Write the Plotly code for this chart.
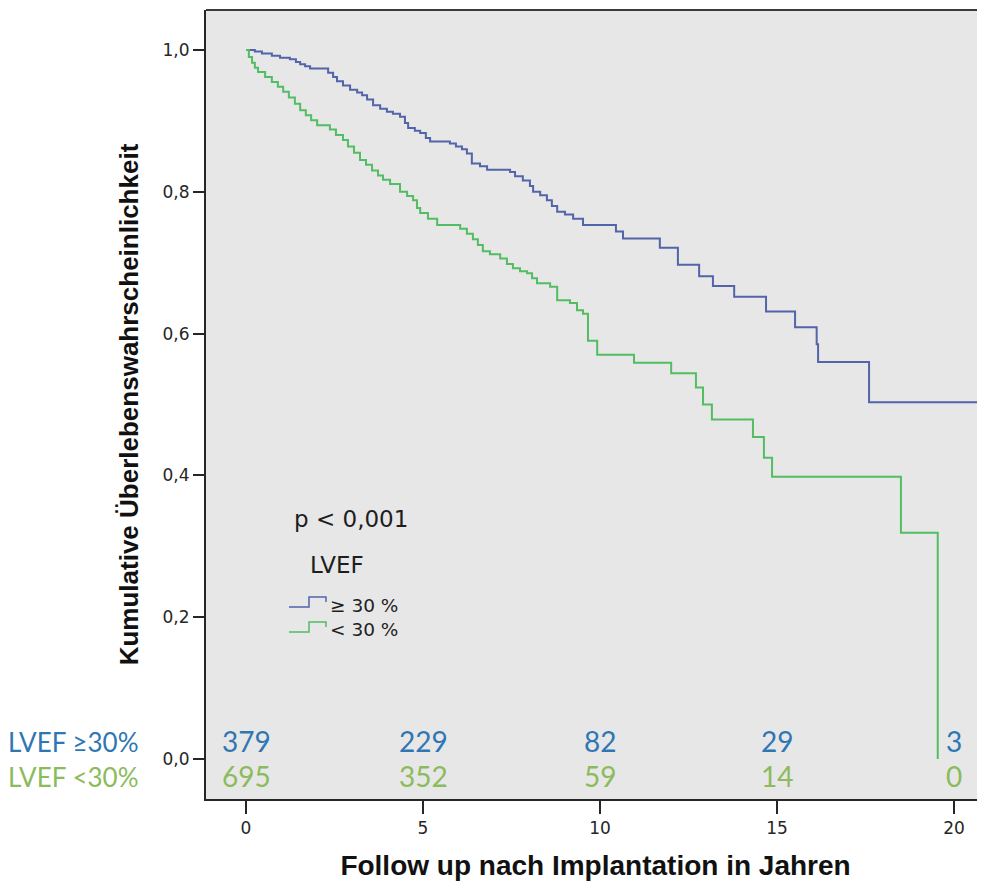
import plotly.graph_objects as go

# ---------------- data ----------------
# LVEF >= 30 %  (time in years, cumulative survival from that time on)
t_hi = [0.0, 0.25, 0.45, 0.73, 0.96, 1.24, 1.41, 1.53, 1.67, 1.81, 2.32, 2.46, 2.57,
        2.74, 2.94, 3.14, 3.28, 3.42, 3.59, 3.79, 3.98, 4.15, 4.35, 4.49, 4.58, 4.77,
        4.92, 5.08, 5.20, 5.76, 5.93, 6.10, 6.24, 6.38, 6.61, 6.81, 7.46, 7.60, 7.82,
        8.02, 8.11, 8.31, 8.50, 8.64, 8.79, 9.01, 9.24, 9.52, 10.45, 10.65, 11.69,
        12.20, 12.80, 13.19, 13.79, 14.69, 15.51, 16.12, 16.16, 17.60, 21.0]
s_hi = [1.000, 0.998, 0.995, 0.992, 0.989, 0.987, 0.983, 0.980, 0.977, 0.974, 0.968,
        0.962, 0.956, 0.950, 0.944, 0.940, 0.936, 0.930, 0.922, 0.917, 0.913, 0.910,
        0.906, 0.897, 0.890, 0.886, 0.883, 0.876, 0.871, 0.868, 0.864, 0.860, 0.854,
        0.840, 0.836, 0.831, 0.828, 0.822, 0.816, 0.808, 0.800, 0.795, 0.788, 0.780,
        0.772, 0.768, 0.762, 0.753, 0.744, 0.734, 0.721, 0.697, 0.681, 0.667, 0.652,
        0.631, 0.609, 0.585, 0.560, 0.503, 0.503]

# LVEF < 30 %
t_lo = [0.0, 0.08, 0.17, 0.25, 0.34, 0.54, 0.73, 0.90, 1.05, 1.21, 1.38, 1.53, 1.69,
        1.84, 2.01, 2.37, 2.54, 2.74, 2.88, 3.05, 3.22, 3.39, 3.56, 3.73, 3.87, 4.07,
        4.35, 4.55, 4.72, 4.83, 4.92, 5.14, 5.40, 6.05, 6.24, 6.41, 6.55, 6.69, 6.89,
        7.18, 7.37, 7.54, 7.74, 7.94, 8.08, 8.22, 8.59, 8.79, 9.15, 9.35, 9.52, 9.66,
        9.92, 10.96, 12.01, 12.71, 12.91, 13.16, 14.32, 14.63, 14.86, 18.50, 19.54]
s_lo = [1.000, 0.990, 0.982, 0.975, 0.969, 0.962, 0.955, 0.948, 0.941, 0.933, 0.924,
        0.915, 0.908, 0.901, 0.894, 0.888, 0.880, 0.873, 0.864, 0.855, 0.845, 0.838,
        0.830, 0.823, 0.817, 0.811, 0.800, 0.794, 0.788, 0.777, 0.770, 0.762, 0.753,
        0.748, 0.741, 0.733, 0.725, 0.716, 0.712, 0.706, 0.698, 0.692, 0.688, 0.685,
        0.678, 0.671, 0.666, 0.647, 0.643, 0.633, 0.628, 0.590, 0.570, 0.559, 0.544,
        0.524, 0.500, 0.479, 0.454, 0.425, 0.398, 0.319, 0.000]

# numbers at risk
risk_times = [0, 5, 10, 15, 20]
risk_hi = [379, 229, 82, 29, 3]
risk_lo = [695, 352, 59, 14, 0]

x_ticks = [0, 5, 10, 15, 20]
y_ticks = [0.0, 0.2, 0.4, 0.6, 0.8, 1.0]
y_ticktext = ["0,0", "0,2", "0,4", "0,6", "0,8", "1,0"]

# ---------------- styling ----------------
LINE_HI = "#5264aa"
LINE_LO = "#52bd62"
TXT_HI = "#2f76b4"
TXT_LO = "#8bbb5c"
AX = "#262626"

# the page body adds an 8 px offset; layout is given in screenshot pixels
OFF = 8
W, H = 985 - OFF, 889 - OFF
L, R, T, B = 206 - OFF, 0, 10 - OFF, H - (799 - OFF)


def px(xs, ys):
    """screenshot pixel -> paper coordinates"""
    xf, yf = xs - OFF, ys - OFF
    return (xf - L) / (W - L - R), (H - B - yf) / (H - T - B)


fig = go.Figure()
fig.add_trace(go.Scatter(x=t_hi, y=s_hi, mode="lines", line=dict(color=LINE_HI, width=2, shape="hv"),
                         name="≥ 30 %", showlegend=False))
fig.add_trace(go.Scatter(x=t_lo, y=s_lo, mode="lines", line=dict(color=LINE_LO, width=2, shape="hv"),
                         name="< 30 %", showlegend=False))

ann = []
for t, a, b in zip(risk_times, risk_hi, risk_lo):
    ann.append(dict(x=t, y=0.025, xref="x", yref="y", text=str(a), showarrow=False,
                    font=dict(family="Lato", size=28, color=TXT_HI), xanchor="center", yanchor="middle"))
    ann.append(dict(x=t, y=-0.024, xref="x", yref="y", text=str(b), showarrow=False,
                    font=dict(family="Lato", size=28, color=TXT_LO), xanchor="center", yanchor="middle"))

lx, ly = px(141, 742)
ann.append(dict(x=lx, y=ly, xref="paper", yref="paper", text="LVEF ≥30%", showarrow=False,
                font=dict(family="Lato", size=26, color=TXT_HI), xanchor="right", yanchor="middle"))
lx, ly = px(141, 777)
ann.append(dict(x=lx, y=ly, xref="paper", yref="paper", text="LVEF <30%", showarrow=False,
                font=dict(family="Lato", size=26, color=TXT_LO), xanchor="right", yanchor="middle"))

# legend block
LEG = "DejaVu Sans"
x0, y0 = px(292, 519)
ann.append(dict(x=x0, y=y0, xref="paper", yref="paper", text="p < 0,001", showarrow=False,
                font=dict(family=LEG, size=23, color="#1e1e1e"), xanchor="left", yanchor="middle"))
x0, y0 = px(308, 565)
ann.append(dict(x=x0, y=y0, xref="paper", yref="paper", text="LVEF", showarrow=False,
                font=dict(family=LEG, size=23, color="#1e1e1e"), xanchor="left", yanchor="middle"))
x0, y0 = px(328, 605)
ann.append(dict(x=x0, y=y0, xref="paper", yref="paper", text="≥ 30 %", showarrow=False,
                font=dict(family=LEG, size=18.5, color="#1e1e1e"), xanchor="left", yanchor="middle"))
x0, y0 = px(328, 629)
ann.append(dict(x=x0, y=y0, xref="paper", yref="paper", text="< 30 %", showarrow=False,
                font=dict(family=LEG, size=18.5, color="#1e1e1e"), xanchor="left", yanchor="middle"))

shapes = []
for dy, col in [(0, LINE_HI), (25, LINE_LO)]:
    pts = [(289, 607 + dy), (309, 607 + dy), (309, 597 + dy), (326, 597 + dy), (326, 602 + dy)]
    path = "M " + " L ".join("%.5f,%.5f" % px(a, b) for a, b in pts)
    shapes.append(dict(type="path", xref="paper", yref="paper", path=path,
                       line=dict(color=col, width=1.5)))
# top frame line
shapes.append(dict(type="line", xref="paper", yref="paper", x0=0, x1=1, y0=1, y1=1,
                   line=dict(color="#3a3a3a", width=2)))

fig.update_layout(
    width=W, height=H,
    margin=dict(l=L, r=R, t=T, b=B),
    paper_bgcolor="white",
    plot_bgcolor="#e7e7e7",
    font=dict(family="Arial", color=AX),
    annotations=ann,
    shapes=shapes,
    showlegend=False,
)
fig.update_xaxes(range=[-1.13, 20.875], tickvals=x_ticks, ticks="outside", ticklen=13, tickwidth=1.5,
                 tickcolor=AX, showline=True, linecolor=AX, linewidth=2, showgrid=False, zeroline=False,
                 tickfont=dict(family="DejaVu Sans", size=17, color=AX),
                 title=dict(text="<b>Follow up nach Implantation in Jahren</b>",
                            font=dict(family="Arial", size=28, color="#111"), standoff=18))
fig.update_yaxes(range=[-0.0564, 1.0564], tickvals=y_ticks, ticktext=y_ticktext, ticks="outside",
                 ticklen=11, tickwidth=1.5, tickcolor=AX, showline=True, linecolor=AX, linewidth=2,
                 showgrid=False, zeroline=False, tickfont=dict(family="DejaVu Sans", size=17, color=AX),
                 title=dict(text="<b>Kumulative Überlebenswahrscheinlichkeit</b>",
                            font=dict(family="Arial", size=26, color="#111"), standoff=16))

fig.write_html("out.html")
